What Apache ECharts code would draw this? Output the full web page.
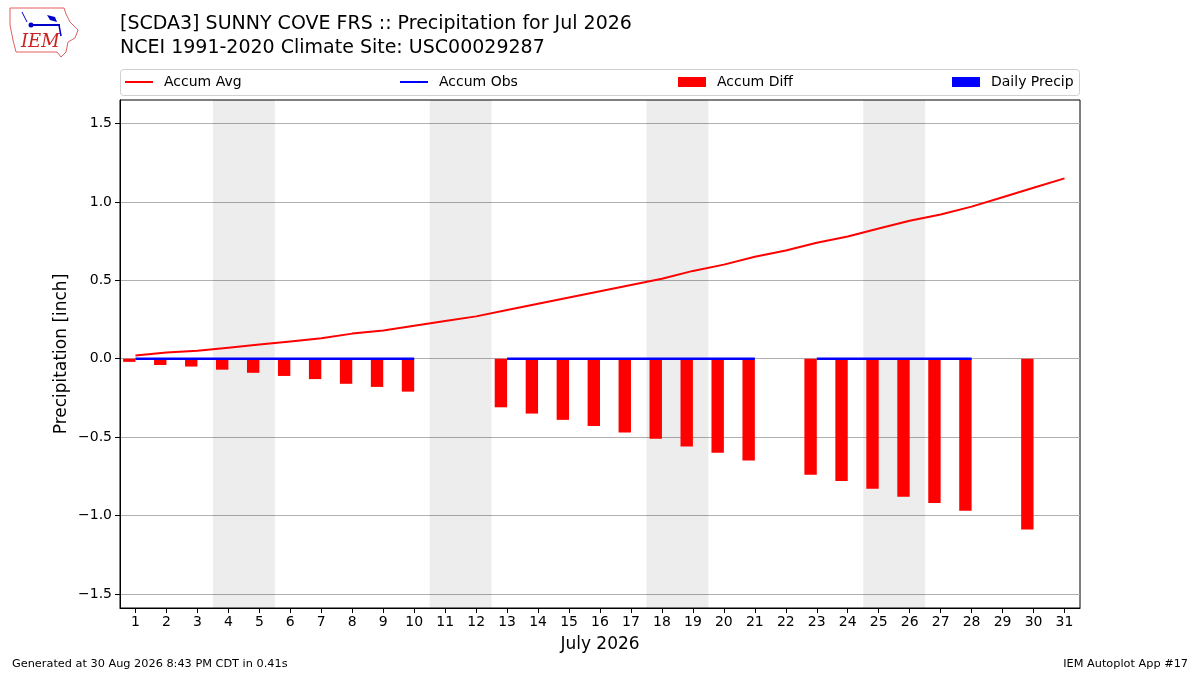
<!DOCTYPE html>
<html>
<head>
<meta charset="utf-8">
<script src="https://cdn.jsdelivr.net/npm/echarts@6/dist/echarts.min.js"></script>
<style>
  html, body { margin: 0; padding: 0; background: #fff; }
  #main { width: 1200px; height: 675px; }
</style>
</head>
<body>
<div id="main"></div>
<script>
const days = [1, 2, 3, 4, 5, 6, 7, 8, 9, 10, 11, 12, 13, 14, 15, 16, 17, 18, 19, 20, 21, 22, 23, 24, 25, 26, 27, 28, 29, 30, 31];
const accumAvg = [0.02, 0.04, 0.05, 0.07, 0.09, 0.11, 0.13, 0.16, 0.18, 0.21, 0.24, 0.27, 0.31, 0.35, 0.39, 0.43,
    0.47, 0.51, 0.56, 0.60, 0.65, 0.69, 0.74, 0.78, 0.83, 0.88, 0.92, 0.97, 1.03, 1.09, 1.15];
const accumObs = [0, 0, 0, 0, 0, 0, 0, 0, 0, 0, null, null, 0, 0, 0, 0, 0, 0, 0, 0, 0, null,
    0, 0, 0, 0, 0, 0, null, 0, null];
const accumDiff = [-0.02, -0.04, -0.05, -0.07, -0.09, -0.11, -0.13, -0.16, -0.18, -0.21, null, null,
    -0.31, -0.35, -0.39, -0.43, -0.47, -0.51, -0.56, -0.60, -0.65, null,
    -0.74, -0.78, -0.83, -0.88, -0.92, -0.97, null, -1.09, null];
const dailyPrecip = [0, 0, 0, 0, 0, 0, 0, 0, 0, 0, null, null, 0, 0, 0, 0, 0, 0, 0, 0, 0, null,
    0, 0, 0, 0, 0, 0, null, 0, null];
const weekends = [[4, 5], [11, 12], [18, 19], [25, 26]];
const yTicks = [-1.5, -1.0, -0.5, 0.0, 0.5, 1.0, 1.5];

const FONT = 'DejaVu Sans';

function pairs(vals) {
    return days.map((d, i) => [d, vals[i]]);
}

// bars sit just left of the day tick (x-0.4 .. x)
function barLeft(params, api) {
    const x = api.value(0), v = api.value(1);
    if (v == null || isNaN(v)) return;
    const p0 = api.coord([x - 0.4, 0]);
    const p1 = api.coord([x, v]);
    return {
        type: 'rect',
        shape: {
            x: p0[0], y: Math.min(p0[1], p1[1]),
            width: p1[0] - p0[0], height: Math.abs(p1[1] - p0[1])
        },
        style: api.style()
    };
}

function barRight(params, api) {
    const x = api.value(0), v = api.value(1);
    if (v == null || isNaN(v)) return;
    const p0 = api.coord([x, 0]);
    const p1 = api.coord([x + 0.4, v]);
    return {
        type: 'rect',
        shape: {
            x: p0[0], y: Math.min(p0[1], p1[1]),
            width: p1[0] - p0[0], height: Math.abs(p1[1] - p0[1])
        },
        style: api.style()
    };
}

function legendAt(name, left, h) {
    return {
        left: left, top: 75, padding: 0,
        itemWidth: 28, itemHeight: h,
        data: [{ name: name, icon: 'rect' }],
        textStyle: { fontFamily: FONT, fontSize: 14, color: '#000', padding: [0, 0, 0, 6] },
        selectedMode: false
    };
}

const chart = echarts.init(document.getElementById('main'), null, { renderer: 'canvas' });

const option = {
    animation: false,
    backgroundColor: '#fff',
    textStyle: { fontFamily: FONT },
    grid: {
        left: 120, right: 120, top: 100, bottom: 67,
        show: true, borderColor: '#000', borderWidth: 1
    },
    legend: [
        legendAt('Accum Avg', 125, 2),
        legendAt('Accum Obs', 400, 2),
        legendAt('Accum Diff', 678, 10),
        legendAt('Daily Precip', 952, 10)
    ],
    xAxis: {
        type: 'value',
        min: 0.5, max: 31.5,
        name: 'July 2026',
        nameLocation: 'middle',
        nameGap: 28,
        nameTextStyle: { fontFamily: FONT, fontSize: 17, color: '#000' },
        axisLine: { show: true, onZero: false, lineStyle: { color: '#000' } },
        axisTick: { show: true, length: 5, customValues: days, lineStyle: { color: '#000' } },
        axisLabel: { customValues: days, fontFamily: FONT, fontSize: 14, color: '#000', margin: 7 },
        splitLine: { show: false }
    },
    yAxis: {
        type: 'value',
        min: -1.59, max: 1.65,
        name: 'Precipitation [inch]',
        nameLocation: 'middle',
        nameGap: 50,
        nameMoveOverlap: false,
        nameTextStyle: { fontFamily: FONT, fontSize: 17, color: '#000' },
        axisLine: { show: true, onZero: false, lineStyle: { color: '#000' } },
        axisTick: { show: true, length: 5, customValues: yTicks, lineStyle: { color: '#000' } },
        axisLabel: {
            customValues: yTicks, fontFamily: FONT, fontSize: 14, color: '#000', margin: 8,
            formatter: v => v.toFixed(1).replace('-', '\u2212')
        },
        splitLine: { show: true, lineStyle: { color: '#b0b0b0', width: 1 } }
    },
    series: [
        {
            name: 'Accum Avg',
            type: 'line',
            data: pairs(accumAvg),
            showSymbol: false,
            color: '#ff0000',
            lineStyle: { color: '#ff0000', width: 2 },
            z: 4,
            markArea: {
                silent: true,
                itemStyle: { color: 'rgba(0,0,0,0.07)' },
                data: weekends.map(w => [{ xAxis: w[0] - 0.5 }, { xAxis: w[1] + 0.5 }])
            }
        },
        {
            name: 'Accum Obs',
            type: 'line',
            data: pairs(accumObs),
            showSymbol: false,
            connectNulls: false,
            color: '#0000ff',
            lineStyle: { color: '#0000ff', width: 2.5 },
            z: 5
        },
        {
            name: 'Accum Diff',
            type: 'custom',
            renderItem: barLeft,
            data: pairs(accumDiff),
            color: '#ff0000',
            itemStyle: { color: '#ff0000' },
            encode: { x: 0, y: 1 },
            z: 3
        },
        {
            name: 'Daily Precip',
            type: 'custom',
            renderItem: barRight,
            data: pairs(dailyPrecip),
            color: '#0000ff',
            itemStyle: { color: '#0000ff' },
            encode: { x: 0, y: 1 },
            z: 3
        }
    ],
    graphic: [
        // legend frame
        {
            type: 'rect', z: -1,
            shape: { x: 120.5, y: 69.5, width: 959, height: 26, r: 3 },
            style: { fill: '#fff', stroke: '#d0d0d0', lineWidth: 1 }
        },
        {
            type: 'text', left: 120, top: 15,
            style: { text: '[SCDA3] SUNNY COVE FRS :: Precipitation for Jul 2026', font: '19px "DejaVu Sans"', fill: '#000' }
        },
        {
            type: 'text', left: 120, top: 39,
            style: { text: 'NCEI 1991-2020 Climate Site: USC00029287', font: '19px "DejaVu Sans"', fill: '#000' }
        },
        {
            type: 'text', left: 12, top: 659,
            style: { text: 'Generated at 30 Aug 2026 8:43 PM CDT in 0.41s', font: '11.3px "DejaVu Sans"', fill: '#000' }
        },
        {
            type: 'text', right: 12, top: 659,
            style: { text: 'IEM Autoplot App #17', font: '11.3px "DejaVu Sans"', fill: '#000' }
        },
        // IEM logo, rough
        {
            type: 'polygon',
            shape: {
                points: [[10, 8], [64, 8], [66, 14], [70, 22], [78, 30], [75, 38], [68, 42], [66, 52],
                    [61, 57], [57, 52], [16, 52], [13, 40], [10, 25]]
            },
            style: { fill: '#fff', stroke: '#e06060', lineWidth: 1 }
        },
        {
            type: 'line', shape: { x1: 30, y1: 25, x2: 60, y2: 25 },
            style: { stroke: '#0000cc', lineWidth: 2 }
        },
        {
            type: 'circle', shape: { cx: 31, cy: 25, r: 2.5 },
            style: { fill: '#0000cc' }
        },
        {
            type: 'polygon', shape: { points: [[47, 15], [55, 17], [57, 22], [50, 20]] },
            style: { fill: '#0000cc' }
        },
        {
            type: 'line', shape: { x1: 59, y1: 25, x2: 61, y2: 36 },
            style: { stroke: '#0000cc', lineWidth: 1.5 }
        },
        {
            type: 'line', shape: { x1: 22, y1: 12, x2: 27, y2: 22 },
            style: { stroke: '#0000cc', lineWidth: 1 }
        },
        {
            type: 'text', left: 21, top: 33,
            style: { text: 'IEM', font: 'italic 18px "DejaVu Serif"', fill: '#cc2222' }
        }
    ]
};

chart.setOption(option);
</script>
</body>
</html>
